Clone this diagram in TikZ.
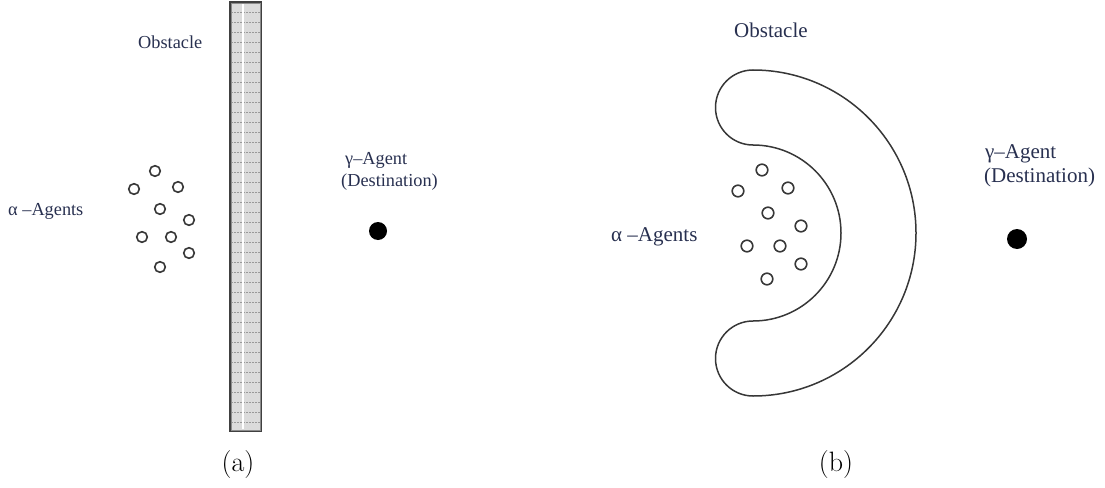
\documentclass[tikz,border=0pt]{standalone}
\usepackage{fontspec}
\usetikzlibrary{calc}
\newfontfamily\tms{Liberation Serif}
\definecolor{txt}{RGB}{40,48,80}
\definecolor{edge}{RGB}{55,55,55}
\begin{document}
\begin{tikzpicture}[x=1pt,y=-1pt,
  agentA/.style={circle,draw=edge,line width=1.6pt,minimum size=10.6pt,inner sep=0pt},
  agentB/.style={circle,draw=edge,line width=1.6pt,minimum size=11.6pt,inner sep=0pt},
  dest/.style={circle,fill=black,inner sep=0pt},
  lblA/.style={text=txt,inner sep=0pt,anchor=west,font=\tms\fontsize{18.3}{21}\selectfont},
  lblB/.style={text=txt,inner sep=0pt,anchor=west,font=\tms\fontsize{21}{24}\selectfont},
  subcap/.style={inner sep=0pt,font=\fontsize{28}{32}\selectfont},
  wallbox/.style={draw=black!75,line width=1.3pt,fill=black!14,minimum width=31pt,minimum height=429pt,inner sep=0pt},
  hatch/.style={draw=black!40,line width=0.5pt,dash pattern=on 2pt off 1pt},
  crescent/.style={draw=edge,line width=1.5pt}]
\useasboundingbox (0,0) rectangle (1105,487);

% ---------- panel (a) ----------
\node[wallbox] (wall) at (245.5,216.5) {};
\foreach \yy in {12,22,...,426} {\draw[hatch] (231,\yy) -- (260,\yy);}
\draw[white,line width=1.2pt] (243,4) -- (243,429);
\draw[black!45,line width=0.5pt] ($(wall.north west)+(1.6,1.6)$) rectangle ($(wall.south east)+(-1.6,-1.6)$);
\node[lblA] (obsA) at (138,42) {Obstacle};
\node[lblA] (alphaA) at (8,211) {α –Agents};
\node[lblA] (gamA) at (345,160) {γ–Agent};
\node[lblA] (destA) at (341,182) {(Destination)};
\node[dest,minimum size=18pt] (gA) at (378,231) {};
\foreach \n/\px/\py in {1/155/171,2/134/189,3/178/187,4/160/209,5/189/220,6/142/237,7/171/237,8/189/253,9/160/267}
  {\node[agentA] (aA\n) at (\px,\py) {};}
\node[subcap] (capA) at (238,465) {(a)};

% ---------- panel (b) ----------
\draw[crescent] (753,70) arc[start angle=-90,end angle=90,radius=163]
  arc[start angle=90,end angle=270,radius=37.5]
  arc[start angle=90,end angle=-90,radius=88]
  arc[start angle=90,end angle=270,radius=37.5] -- cycle;
\node[lblB] (obsB) at (734,30) {Obstacle};
\node[lblB] (alphaB) at (611,237) {α –Agents};
\node[lblB] (gamB) at (985,154) {γ–Agent};
\node[lblB] (destB) at (984,177) {(Destination)};
\node[dest,minimum size=20pt] (gB) at (1017,239) {};
\foreach \n/\px/\py in {1/762/170,2/738/191,3/788/188,4/768/213,5/801/226,6/747/246,7/780/246,8/801/264,9/767/279}
  {\node[agentB] (aB\n) at (\px,\py) {};}
\node[subcap] (capB) at (836,465) {(b)};
\end{tikzpicture}
\end{document}
